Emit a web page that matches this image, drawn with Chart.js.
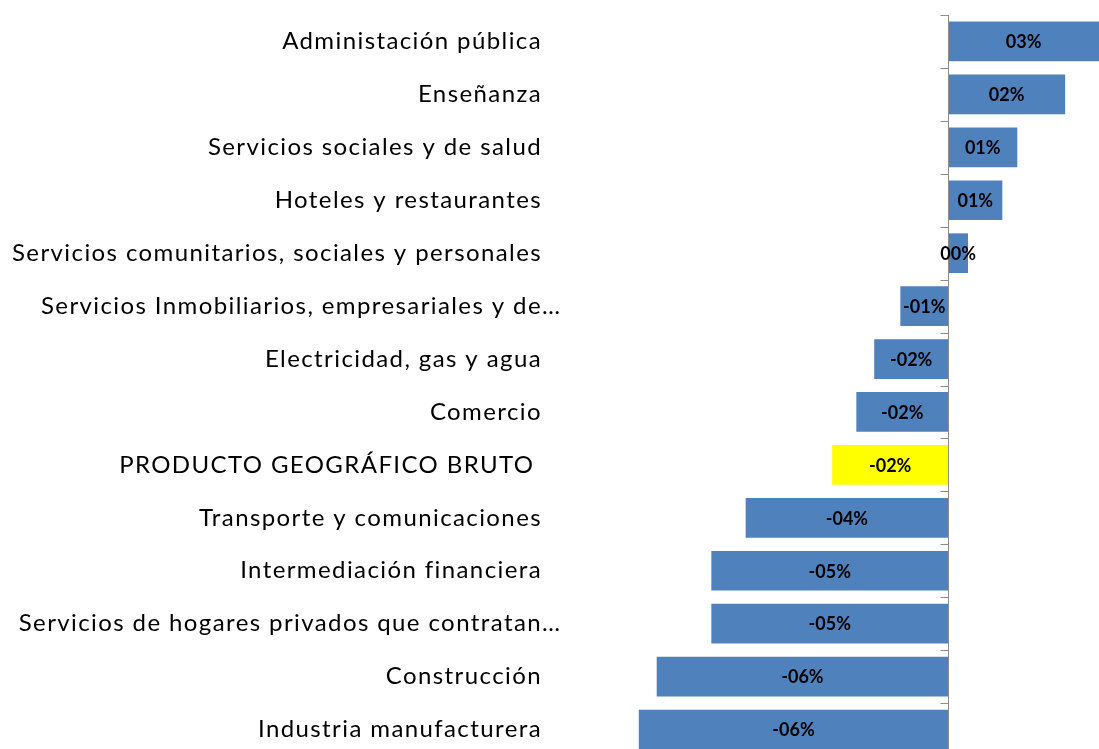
<!DOCTYPE html>
<html>
<head>
<meta charset="utf-8">
<script src="https://cdn.jsdelivr.net/npm/chart.js@4/dist/chart.umd.min.js"></script>
<style>
  html, body { margin: 0; padding: 0; overflow: hidden; background: #fff; }
  #wrap { position: relative; width: 1099px; height: 756px; }
</style>
</head>
<body>
<div id="wrap"><canvas id="sectores"></canvas></div>
<script>
const sectores = [
  "Administación pública",
  "Enseñanza",
  "Servicios sociales y de salud",
  "Hoteles y restaurantes",
  "Servicios comunitarios, sociales y personales",
  "Servicios Inmobiliarios, empresariales y de…",
  "Electricidad, gas y agua",
  "Comercio",
  "PRODUCTO GEOGRÁFICO BRUTO ",
  "Transporte y comunicaciones",
  "Intermediación financiera",
  "Servicios de hogares privados que contratan…",
  "Construcción",
  "Industria manufacturera"
];
const variacion = [3.12, 2.42, 1.43, 1.12, 0.41, -0.99, -1.53, -1.90, -2.40, -4.19, -4.90, -4.90, -6.03, -6.40];
const destacado = "PRODUCTO GEOGRÁFICO BRUTO ";

const AZUL = "#4F81BD";
const AMARILLO = "#FFFF00";
const GRIS = "#8C8C8C";

const fmt = (v) => (v < 0 ? "-" : "") + String(Math.round(Math.abs(v))).padStart(2, "0") + "%";

// axis at zero + tick marks at the category boundaries, labels on the left
const ejePlugin = {
  id: "eje",
  afterDatasetsDraw(chart) {
    const { ctx, chartArea, scales } = chart;
    const x0 = Math.round(scales.x.getPixelForValue(0)) + 0.5;
    ctx.save();
    ctx.strokeStyle = GRIS;
    ctx.lineWidth = 1;
    ctx.beginPath();
    ctx.moveTo(x0, chartArea.top);
    ctx.lineTo(x0, chartArea.bottom);
    const n = sectores.length;
    for (let i = 0; i <= n; i++) {
      const y = Math.round(chartArea.top + (chartArea.bottom - chartArea.top) * i / n) + 0.5;
      ctx.moveTo(x0 - 8, y);
      ctx.lineTo(x0, y);
    }
    ctx.stroke();

    // category labels
    ctx.font = "24px Lato";
    ctx.letterSpacing = "1.4px";
    ctx.fillStyle = "#000";
    ctx.textBaseline = "middle";
    const xr = 542;
    sectores.forEach((s, i) => {
      const y = scales.y.getPixelForValue(i);
      if (s.endsWith("…")) {
        ctx.textAlign = "right";
        ctx.fillText(s.slice(0, -1), xr, y);
        ctx.textAlign = "left";
        ctx.fillText("…", xr, y);
      } else {
        ctx.textAlign = "right";
        ctx.fillText(s, xr, y);
      }
    });

    // value labels
    ctx.letterSpacing = "0px";
    ctx.font = "bold 18px Lato";
    ctx.textAlign = "center";
    const meta = chart.getDatasetMeta(0);
    meta.data.forEach((bar, i) => {
      const right = Math.min(Math.max(bar.x, bar.base), chartArea.right);
      const left = Math.min(bar.x, bar.base);
      ctx.fillText(fmt(variacion[i]), (left + right) / 2, bar.y + 1);
    });
    ctx.restore();
  }
};

document.addEventListener("DOMContentLoaded", function () {
  const canvas = document.getElementById("sectores");
  new Chart(canvas, {
    type: "bar",
    data: {
      labels: sectores,
      datasets: [{
        data: variacion,
        backgroundColor: sectores.map((s) => s === destacado ? AMARILLO : AZUL),
        borderWidth: 0,
        categoryPercentage: 1,
        barPercentage: 0.75
      }]
    },
    options: {
      indexAxis: "y",
      responsive: true,
      maintainAspectRatio: false,
      animation: false,
      layout: { padding: { left: 575, top: 15, right: 0, bottom: 0 } },
      scales: {
        x: { display: false, min: -7.72, max: 3.12 },
        y: { display: false }
      },
      plugins: {
        legend: { display: false },
        tooltip: { enabled: false }
      }
    },
    plugins: [ejePlugin]
  });
});
</script>
</body>
</html>
